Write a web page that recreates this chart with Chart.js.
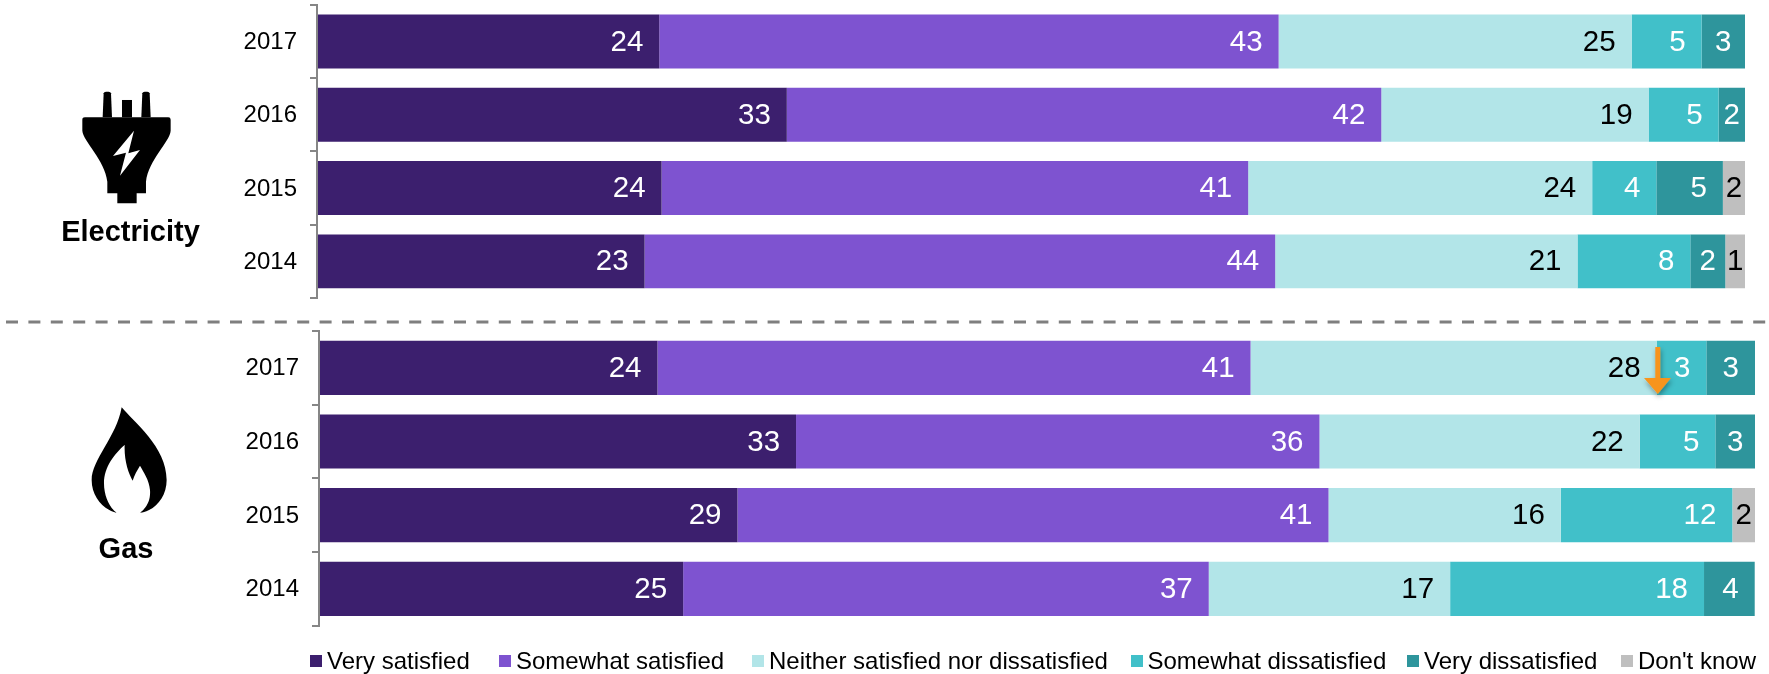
<!DOCTYPE html>
<html>
<head>
<meta charset="utf-8">
<script src="https://cdn.jsdelivr.net/npm/chart.js@4/dist/chart.umd.min.js"></script>
<style>
  html, body { margin: 0; padding: 0; background: #fff; overflow: hidden; }
  #page { position: relative; width: 1769px; height: 674px; font-family: "Liberation Sans", Arial, sans-serif; }
  #page canvas { position: absolute; left: 0; }
  #overlay { position: absolute; left: 0; top: 0; pointer-events: none; }
  #legend { position: absolute; left: 0; top: 646px; width: 1769px; height: 30px; font-size: 24px; line-height: 30px; color: #000; white-space: nowrap; }
  #legend span.item { position: absolute; top: 0; display: flex; align-items: center; }
  #legend i { display: block; width: 12px; height: 12px; margin-right: 5px; }
</style>
</head>
<body>
<div id="page">
  <canvas id="elecChart" style="top:0"></canvas>
  <canvas id="gasChart" style="top:325px"></canvas>
  <svg id="overlay" width="1769" height="674">
    <defs>
      <filter id="soft" x="-50%" y="-20%" width="200%" height="150%">
        <feDropShadow dx="1" dy="3" stdDeviation="2.5" flood-color="#000" flood-opacity="0.35"/>
      </filter>
    </defs>
    <line x1="6" y1="322" x2="1769" y2="322" stroke="#7f7f7f" stroke-width="3" stroke-dasharray="12 10.4"/>

    <!-- plug icon -->
    <g transform="scale(0.3333)">
      <path d="M308 352 L311 280 Q312 275 318 275 L326 275 Q332 275 333 280 L336 352 Z"/>
      <rect x="366" y="300" width="30" height="52"/>
      <path d="M424 352 L427 280 Q428 275 434 275 L442 275 Q448 275 449 280 L452 352 Z"/>
      <path d="M255 352 L505 352 Q512 352 512 359 L512 392 C510 425 445 480 438 545 L438 580 L410 580 L410 610 L352 610 L352 580 L322 580 L322 545 C315 480 250 425 247 392 L247 359 Q247 352 255 352 Z"/>
      <path d="M402 392 L339 468 L378 458 L360 527 L420 450 L385 460 Z" fill="#fff"/>
    </g>
    <text x="130.5" y="241" text-anchor="middle" font-family="Liberation Sans" font-weight="bold" font-size="29">Electricity</text>

    <!-- flame icon -->
    <g transform="translate(0,320) scale(0.3333)">
      <path d="M365 262 C400 305 500 380 500 480 C500 535 460 575 420 578 C445 560 452 535 450 510 C448 480 430 455 420 437 C412 450 403 465 398 482 C385 460 372 420 374 375 C345 400 312 440 312 490 C312 530 330 565 350 578 C310 570 275 530 275 480 C275 420 350 350 365 262 Z"/>
    </g>
    <text x="126" y="558" text-anchor="middle" font-family="Liberation Sans" font-weight="bold" font-size="29">Gas</text>

    <!-- arrow on the gas 2017 bar -->
    <path d="M1655.3 347 L1660.3 347 L1660.3 378 L1671 378 L1657.8 394 L1644 378 L1655.3 378 Z" fill="#f7941d" filter="url(#soft)"/>
  </svg>
  <div id="legend"></div>
</div>

<script>
// Survey years, top row first
const years = ['2017', '2016', '2015', '2014'];

const seriesNames = ['Very satisfied', 'Somewhat satisfied', 'Neither satisfied nor dissatisfied',
  'Somewhat dissatisfied', 'Very dissatisfied', "Don't know"];
const seriesColors = ['#3c1f6e', '#7e53d0', '#b2e5e8', '#41c0c9', '#2e959c', '#bfbfbf'];
const labelColors = ['#fff', '#fff', '#000', '#fff', '#fff', '#000'];

// Electricity, % of respondents
const elecVerySatisfied = [23.97, 32.9, 24.13, 22.94];
const elecSomewhatSatisfied = [43.37, 41.63, 41.08, 44.16];
const elecNeither = [24.72, 18.72, 24.09, 21.17];
const elecSomewhatDissatisfied = [4.9, 4.9, 4.49, 7.9];
const elecVeryDissatisfied = [3.04, 1.85, 4.66, 2.45];
const elecDontKnow = [0, 0, 1.55, 1.38];

// Gas, % of respondents
const gasVerySatisfied = [23.57, 33.22, 29.14, 25.36];
const gasSomewhatSatisfied = [41.3, 36.45, 41.16, 36.6];
const gasNeither = [28.28, 22.3, 16.18, 16.81];
const gasSomewhatDissatisfied = [3.46, 5.27, 11.94, 17.68];
const gasVeryDissatisfied = [3.39, 2.76, 0, 3.53];
const gasDontKnow = [0, 0, 1.58, 0];

const elecSeries = [elecVerySatisfied, elecSomewhatSatisfied, elecNeither,
  elecSomewhatDissatisfied, elecVeryDissatisfied, elecDontKnow];
const gasSeries = [gasVerySatisfied, gasSomewhatSatisfied, gasNeither,
  gasSomewhatDissatisfied, gasVeryDissatisfied, gasDontKnow];

// Left edge of each legend entry
const legendLeft = [310, 499, 752, 1130.5, 1407, 1621];

// Writes the rounded value inside the end of each bar segment
const barLabels = {
  id: 'barLabels',
  afterDatasetsDraw(chart) {
    const ctx = chart.ctx;
    ctx.save();
    ctx.font = '29.5px "Liberation Sans"';
    ctx.textBaseline = 'middle';
    ctx.textAlign = 'right';
    chart.data.datasets.forEach((ds, i) => {
      chart.getDatasetMeta(i).data.forEach((bar, j) => {
        const v = ds.data[j];
        if (!v) return;
        const text = String(Math.round(v));
        const w = bar.x - bar.base;
        const tw = ctx.measureText(text).width;
        const pad = Math.min(16, (w - tw) / 2);
        ctx.fillStyle = labelColors[i];
        ctx.fillText(text, bar.x - pad, bar.y + 1);
      });
    });
    ctx.restore();
  }
};

function makePanel(id, series, height, axisLeft, padding) {
  const canvas = document.getElementById(id);
  canvas.width = 1769;
  canvas.height = height;
  return new Chart(canvas.getContext('2d'), {
    type: 'bar',
    data: {
      labels: years,
      datasets: series.map((values, i) => ({
        label: seriesNames[i],
        data: values,
        backgroundColor: seriesColors[i],
        borderWidth: 0,
        categoryPercentage: 1,
        barPercentage: 0.735
      }))
    },
    options: {
      indexAxis: 'y',
      responsive: false,
      animation: false,
      layout: { padding: padding },
      plugins: { legend: { display: false }, tooltip: { enabled: false } },
      scales: {
        x: { stacked: true, min: 0, max: 100, display: false },
        y: {
          stacked: true,
          afterFit: scale => {
            scale.width = axisLeft;
            scale.paddingTop = 0;
            scale.paddingBottom = 0;
          },
          border: { color: '#868686', width: 2, z: 1 },
          grid: { offset: true, drawOnChartArea: false, color: '#868686', lineWidth: 2, tickLength: 7 },
          ticks: { color: '#000', padding: 13, labelOffset: 1, font: { family: 'Liberation Sans', size: 24 } }
        }
      }
    },
    plugins: [barLabels]
  });
}

const elecChart = makePanel('elecChart', elecSeries, 310, 317, { top: 4.8, bottom: 12, right: 24 });
const gasChart = makePanel('gasChart', gasSeries, 310, 319, { top: 6, bottom: 9.3, right: 14 });

// Legend built from the chart's own items
const legendBox = document.getElementById('legend');
Chart.defaults.plugins.legend.labels.generateLabels(gasChart).forEach((item, i) => {
  const el = document.createElement('span');
  el.className = 'item';
  el.style.left = legendLeft[i] + 'px';
  const swatch = document.createElement('i');
  swatch.style.background = item.fillStyle;
  el.appendChild(swatch);
  el.appendChild(document.createTextNode(item.text));
  legendBox.appendChild(el);
});
</script>
</body>
</html>
